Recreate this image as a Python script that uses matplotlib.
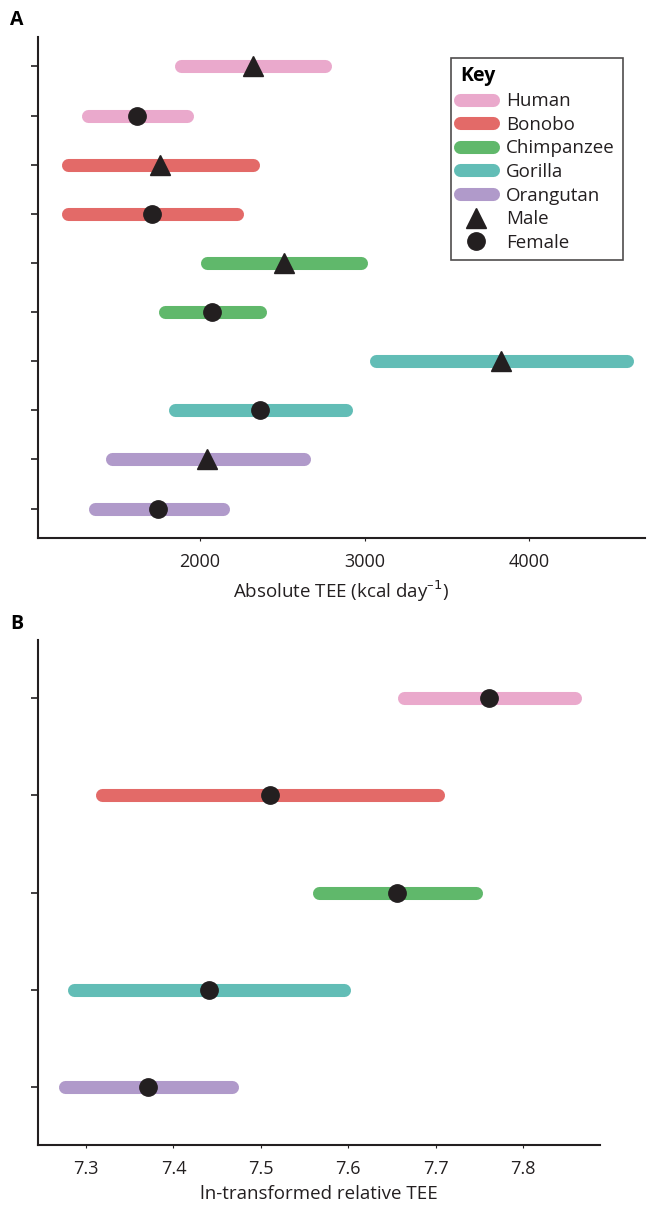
import matplotlib
matplotlib.use("Agg")
import matplotlib.pyplot as plt
from matplotlib.lines import Line2D

plt.rcParams['font.family'] = ['Open Sans', 'DejaVu Sans']

species = ["Human", "Bonobo", "Chimpanzee", "Gorilla", "Orangutan"]
colors = ["#EAA9CC", "#E36A68", "#60B86B", "#62BDB6", "#B09ACA"]
mark_color = "#231F20"

# Panel A: absolute TEE, male and female per species (low, high, mean)
male_low = [1884, 1197, 2042, 3069, 1465]
male_high = [2760, 2323, 2979, 4596, 2633]
male_mean = [2322, 1757, 2511, 3830, 2043]
female_low = [1319, 1197, 1787, 1848, 1361]
female_high = [1921, 2225, 2365, 2888, 2140]
female_mean = [1617, 1708, 2073, 2365, 1745]
a_ticks = [2000, 3000, 4000]

# Panel B: ln-transformed relative TEE (females)
b_low = [7.664, 7.318, 7.567, 7.286, 7.276]
b_high = [7.859, 7.703, 7.746, 7.595, 7.467]
b_mean = [7.761, 7.511, 7.656, 7.441, 7.371]
b_ticks = [7.3, 7.4, 7.5, 7.6, 7.7, 7.8]

W, H = 647, 1207
fig = plt.figure(figsize=(W / 100, H / 100), dpi=100)
axA = fig.add_axes([38 / W, 1 - 538 / H, 607 / W, 501 / H])
axB = fig.add_axes([38 / W, 1 - 1145 / H, 562 / W, 505 / H])

lw = 9.4
for ax in (axA, axB):
    for s in ("top", "right"):
        ax.spines[s].set_visible(False)
    for s in ("left", "bottom"):
        ax.spines[s].set_linewidth(1.5)
        ax.spines[s].set_color("#231F20")
    ax.tick_params(axis='y', length=5, width=1.2, labelleft=False, color="#231F20")
    ax.tick_params(axis='x', length=2, width=0.8, labelsize=13, color="#231F20",
                   labelcolor="#231F20", pad=9)

# Panel A
n = len(species)
ypos_A = []
for i in range(n):
    ym = 2 * n - 1 - 2 * i
    yf = ym - 1
    axA.plot([male_low[i], male_high[i]], [ym, ym], color=colors[i], lw=lw,
             solid_capstyle='round', zorder=2)
    axA.plot([male_mean[i]], [ym], marker='^', ms=14, color=mark_color, zorder=3, ls='none')
    axA.plot([female_low[i], female_high[i]], [yf, yf], color=colors[i], lw=lw,
             solid_capstyle='round', zorder=2)
    axA.plot([female_mean[i]], [yf], marker='o', ms=12.5, color=mark_color, zorder=3, ls='none')
    ypos_A += [ym, yf]
axA.set_yticks(sorted(ypos_A))
axA.set_ylim(-0.6, 2 * n - 1 + 0.6)
axA.set_xlim(1015, 4705)
axA.set_xticks(a_ticks)
axA.set_xlabel("Absolute TEE (kcal day$^{\u2013 1}$)", fontsize=13.5, color="#231F20", labelpad=5)

handles = [Line2D([0], [0], color=c, lw=lw, solid_capstyle='round') for c in colors]
handles += [Line2D([0], [0], marker='^', ms=14, color=mark_color, ls='none'),
            Line2D([0], [0], marker='o', ms=12.5, color=mark_color, ls='none')]
labels = species + ["Male", "Female"]
leg = axA.legend(handles, labels, title="Key", loc='upper right',
                 bbox_to_anchor=((623 - 38) / 607, (538 - 58) / 501), borderaxespad=0,
                 fontsize=13.5, title_fontsize=14,
                 frameon=True, fancybox=False, edgecolor="#231F20",
                 handlelength=1.75, labelspacing=0.3, borderpad=0.45, handletextpad=0.7)
leg.get_frame().set_linewidth(1.2)
leg._legend_box.align = "left"
leg.get_title().set_fontweight('bold')
for t in leg.get_texts():
    t.set_color("#231F20")

# Panel B
ypos_B = []
for i in range(n):
    y = n - 1 - i
    axB.plot([b_low[i], b_high[i]], [y, y], color=colors[i], lw=lw,
             solid_capstyle='round', zorder=2)
    axB.plot([b_mean[i]], [y], marker='o', ms=12.5, color=mark_color, zorder=3, ls='none')
    ypos_B.append(y)
axB.set_yticks(sorted(ypos_B))
axB.set_ylim(-0.6, n - 1 + 0.6)
axB.set_xlim(7.245, 7.888)
axB.set_xticks(b_ticks)
axB.set_xticklabels([f"{t:.1f}" for t in b_ticks])
axB.set_xlabel("ln-transformed relative TEE", fontsize=13.5, color="#231F20", labelpad=5)

fig.text(10 / W, 1 - 20 / H, "A", fontsize=14, fontweight='bold', va='center', ha='left')
fig.text(10 / W, 1 - 624 / H, "B", fontsize=14, fontweight='bold', va='center', ha='left')

fig.savefig("out.png", dpi=100)
